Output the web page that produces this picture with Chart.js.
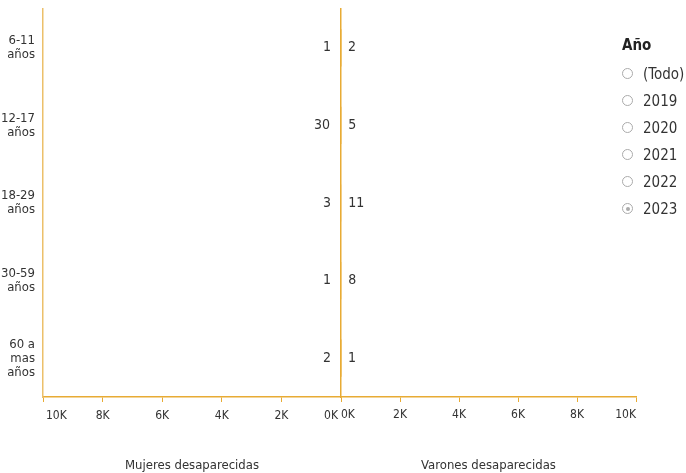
<!DOCTYPE html>
<html>
<head>
<meta charset="utf-8">
<script src="https://cdn.jsdelivr.net/npm/chart.js@4"></script>
<style>
  body { margin: 0; background: #fff; width: 686px; height: 473px; overflow: hidden; position: relative; }
  .panel { position: absolute; top: 0; height: 473px; }
  #izq { left: 0; width: 341px; }
  #der { left: 340px; width: 346px; }
  #filtro { position: absolute; left: 622px; top: 36px; font-family: "DejaVu Sans Condensed", sans-serif; color: #333; }
  #filtro .tit { font-weight: bold; font-size: 15px; height: 24px; line-height: 18px; color: #222; }
  #filtro .op { font-size: 15px; height: 27px; line-height: 18px; display: flex; align-items: center; }
  #filtro .rad { width: 9px; height: 9px; border: 1px solid #aaa; border-radius: 50%; margin-right: 10px; position: relative; box-sizing: content-box; }
  #filtro .rad.on::after { content: ""; position: absolute; left: 2.5px; top: 2.5px; width: 4px; height: 4px; border-radius: 50%; background: #aaa; }
</style>
</head>
<body>
<div class="panel" id="izq"><canvas id="chartMujeres"></canvas></div>
<div class="panel" id="der"><canvas id="chartVarones"></canvas></div>
<div id="filtro"></div>
<script>
// datos
const categorias = [['6-11', 'años'], ['12-17', 'años'], ['18-29', 'años'], ['30-59', 'años'], ['60 a', 'mas', 'años']];
const mujeres = [1, 30, 3, 1, 2];
const varones = [2, 5, 11, 8, 1];
const ejeMax = 10000;
const anios = ['(Todo)', '2019', '2020', '2021', '2022', '2023'];
const anioSel = '2023';

const fuente = '"DejaVu Sans Condensed", sans-serif';
const dorado = '#e8ab34';
const texto = '#333';

// radio buttons del filtro
const filtro = document.getElementById('filtro');
filtro.innerHTML = '<div class="tit">Año</div>' + anios.map(function (a) {
  return '<div class="op"><span class="rad' + (a === anioSel ? ' on' : '') + '"></span>' + a + '</div>';
}).join('');

function formatoK(v) { return (v / 1000) + 'K'; }

// etiquetas de valor junto al cero
const etiquetas = {
  id: 'etiquetas',
  afterDatasetsDraw(chart, args, opts) {
    const c = chart.ctx;
    const meta = chart.getDatasetMeta(0);
    const xs = chart.scales.x;
    c.save();
    c.font = '14px ' + fuente;
    c.fillStyle = texto;
    c.textBaseline = 'middle';
    c.textAlign = opts.lado === 'izq' ? 'right' : 'left';
    chart.data.datasets[0].data.forEach(function (v, i) {
      const x = xs.getPixelForValue(v) + (opts.lado === 'izq' ? -10 : 7);
      c.fillText(String(v), x, meta.data[i].y);
    });
    c.restore();
  }
};

// ticks del eje invertido (izquierdo), alineados hacia adentro en los extremos
const ticksIzq = {
  id: 'ticksIzq',
  afterDraw(chart) {
    const c = chart.ctx;
    const xs = chart.scales.x;
    c.save();
    c.font = '12px ' + fuente;
    c.fillStyle = texto;
    c.textBaseline = 'middle';
    xs.ticks.forEach(function (t) {
      c.textAlign = t.value === xs.max ? 'left' : (t.value === xs.min ? 'right' : 'center');
      const dx = t.value === xs.max ? 3 : (t.value === xs.min ? -3 : 0);
      c.fillText(formatoK(t.value), xs.getPixelForValue(t.value) + dx, xs.top + 19);
    });
    c.restore();
  }
};

function ejeX(titulo, reverso) {
  return {
    type: 'linear',
    min: 0,
    max: ejeMax,
    reverse: reverso,
    afterFit: function (s) { s.height = 76; s.paddingLeft = 0; s.paddingRight = 0; },
    ticks: {
      display: !reverso,
      stepSize: 2000,
      align: 'inner',
      padding: 6,
      color: texto,
      font: { family: fuente, size: 12 },
      callback: formatoK
    },
    grid: { drawOnChartArea: false, drawTicks: true, tickLength: 5, color: dorado },
    border: { display: true, color: dorado, width: 1.5 },
    title: {
      display: true,
      text: titulo,
      color: texto,
      font: { family: fuente, size: 13 },
      padding: { top: 0, bottom: 0 }
    }
  };
}

new Chart(document.getElementById('chartMujeres'), {
  type: 'bar',
  data: {
    labels: categorias,
    datasets: [{ data: mujeres, backgroundColor: dorado, barPercentage: 0.6 }]
  },
  options: {
    indexAxis: 'y',
    responsive: true,
    maintainAspectRatio: false,
    animation: false,
    layout: { padding: { top: 9, right: 0, bottom: 0, left: 0 } },
    plugins: { legend: { display: false }, tooltip: { enabled: false }, etiquetas: { lado: 'izq' } },
    scales: {
      x: ejeX('Mujeres desaparecidas', true),
      y: {
        afterFit: function (s) { s.width = 43; s.paddingTop = 0; s.paddingBottom = 0; },
        ticks: {
          padding: 8,
          color: texto,
          font: { family: fuente, size: 13, lineHeight: '14px' }
        },
        grid: { display: false, drawTicks: false },
        border: { display: true, color: '#ecc06a', width: 1.5 }
      }
    }
  },
  plugins: [etiquetas, ticksIzq]
});

new Chart(document.getElementById('chartVarones'), {
  type: 'bar',
  data: {
    labels: categorias,
    datasets: [{ data: varones, backgroundColor: dorado, barPercentage: 0.6 }]
  },
  options: {
    indexAxis: 'y',
    responsive: true,
    maintainAspectRatio: false,
    animation: false,
    layout: { padding: { top: 9, right: 50, bottom: 0, left: 0 } },
    plugins: { legend: { display: false }, tooltip: { enabled: false }, etiquetas: { lado: 'der' } },
    scales: {
      x: ejeX('Varones desaparecidas', false),
      y: {
        afterFit: function (s) { s.width = 1; s.paddingTop = 0; s.paddingBottom = 0; },
        ticks: { display: false },
        grid: { display: false, drawTicks: false },
        border: { display: true, color: dorado, width: 1.5 }
      }
    }
  },
  plugins: [etiquetas]
});
</script>
</body>
</html>
